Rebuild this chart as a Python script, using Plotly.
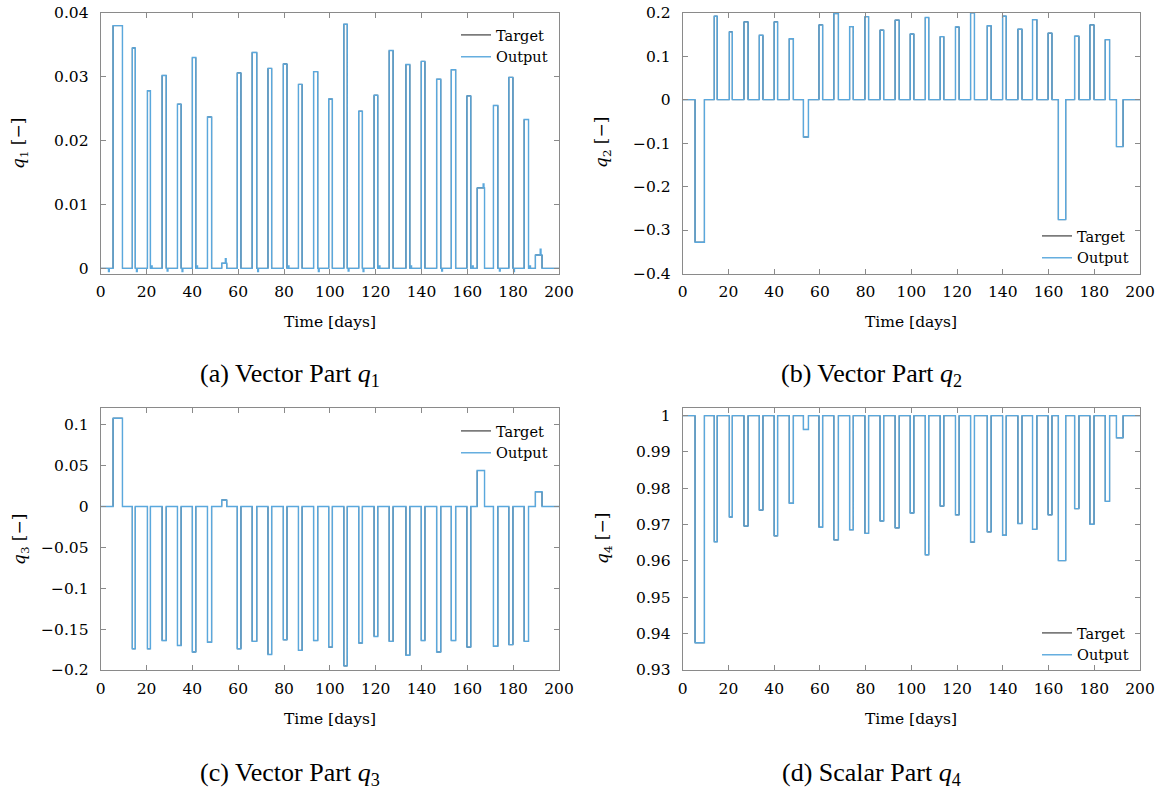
import plotly.graph_objects as go

# ---------------- data ----------------
t_start = [5.4, 13.8, 20.4, 26.8, 33.5, 40.0, 46.6, 52.8, 59.6, 66.1, 73.0, 79.7,
           86.3, 92.9, 99.5, 106.1, 112.6, 119.3, 125.9, 133.2, 139.9, 146.6,
           153.0, 159.8, 164.3, 171.4, 178.1, 184.8, 189.7]
t_end = [9.5, 15.1, 21.7, 28.6, 35.1, 41.5, 48.4, 55.0, 61.2, 68.1, 74.6, 81.3,
         87.9, 94.7, 101.1, 107.6, 114.2, 120.9, 127.6, 134.9, 141.5, 148.4,
         154.9, 161.5, 167.5, 173.3, 179.9, 186.7, 192.6]

q1_peak = [0.0380, 0.0345, 0.0278, 0.0302, 0.0257, 0.0330, 0.0237, 0.0008, 0.0306,
           0.0338, 0.0313, 0.0320, 0.0288, 0.0308, 0.0265, 0.0382, 0.0246, 0.0271,
           0.0341, 0.0319, 0.0324, 0.0296, 0.0311, 0.0270, 0.0126, 0.0255, 0.0299,
           0.0233, 0.0021]
q2_peak = [-0.328, 0.192, 0.156, 0.179, 0.148, 0.179, 0.140, -0.086, 0.172, 0.198,
           0.168, 0.191, 0.160, 0.183, 0.151, 0.189, 0.145, 0.167, 0.200, 0.170,
           0.192, 0.162, 0.184, 0.153, -0.276, 0.146, 0.172, 0.138, -0.108]
q3_peak = [0.108, -0.174, -0.174, -0.164, -0.170, -0.178, -0.166, 0.008, -0.174,
           -0.165, -0.181, -0.163, -0.176, -0.164, -0.172, -0.195, -0.167, -0.159,
           -0.165, -0.182, -0.164, -0.178, -0.164, -0.172, 0.044, -0.171, -0.169,
           -0.165, 0.018]
q4_peak = [0.9375, 0.9653, 0.9721, 0.9696, 0.9740, 0.9669, 0.9759, 0.9962, 0.9693,
           0.9658, 0.9686, 0.9676, 0.9710, 0.9691, 0.9732, 0.9617, 0.9751, 0.9727,
           0.9652, 0.9680, 0.9671, 0.9703, 0.9687, 0.9727, 0.9601, 0.9744, 0.9701,
           0.9764, 0.9939]
baselines = [0.0, 0.0, 0.0, 1.0]

# small transients of the estimated output in q1 (time [days], offset)
q1_glitch_t = [3.4, 15.6, 22.1, 29.0, 35.5, 41.9, 54.4, 68.5, 81.8, 95.0, 108.0,
               114.5, 121.5, 135.3, 148.8, 162.2, 166.9, 174.0, 180.2, 187.2, 191.8]
q1_glitch_v = [-0.0005, -0.0005, 0.0004, -0.0004, -0.0005, 0.0004, 0.0007, -0.0005,
               0.0004, -0.0005, -0.0004, -0.0005, 0.0004, 0.0004, -0.0004, 0.0004,
               0.0006, -0.0004, -0.0005, 0.0004, 0.0009]
glitch_len = 0.35

x_ticks = [0, 20, 40, 60, 80, 100, 120, 140, 160, 180, 200]
y1_ticks = [0, 0.01, 0.02, 0.03, 0.04]
y1_text = ["0", "0.01", "0.02", "0.03", "0.04"]
y2_ticks = [-0.4, -0.3, -0.2, -0.1, 0, 0.1, 0.2]
y2_text = ["\u22120.4", "\u22120.3", "\u22120.2", "\u22120.1", "0", "0.1", "0.2"]
y3_ticks = [-0.2, -0.15, -0.1, -0.05, 0, 0.05, 0.1]
y3_text = ["\u22120.2", "\u22120.15", "\u22120.1", "\u22120.05", "0", "0.05", "0.1"]
y4_ticks = [0.93, 0.94, 0.95, 0.96, 0.97, 0.98, 0.99, 1.0]
y4_text = ["0.93", "0.94", "0.95", "0.96", "0.97", "0.98", "0.99", "1"]

captions = ["(a) Vector Part <i>q</i><sub>1</sub>", "(b) Vector Part <i>q</i><sub>2</sub>",
            "(c) Vector Part <i>q</i><sub>3</sub>", "(d) Scalar Part <i>q</i><sub>4</sub>"]
ylabels = ["<i>q</i><sub>1</sub> [\u2212]", "<i>q</i><sub>2</sub> [\u2212]",
           "<i>q</i><sub>3</sub> [\u2212]", "<i>q</i><sub>4</sub> [\u2212]"]

# ---------------- helpers ----------------
def step_series(base, peaks):
    t, v = [0.0], [base]
    for s, e, p in zip(t_start, t_end, peaks):
        t += [s, e]
        v += [p, base]
    t.append(200.0)
    v.append(base)
    return t, v


def value_at(t_list, v_list, x):
    val = v_list[0]
    for tt, vv in zip(t_list, v_list):
        if tt <= x:
            val = vv
        else:
            break
    return val


def with_glitches(t_list, v_list, gt, gv):
    pts = set(t_list)
    for g in gt:
        pts.add(g)
        pts.add(g + glitch_len)
    ts = sorted(pts)
    out = []
    for x in ts:
        val = value_at(t_list, v_list, x)
        for g, a in zip(gt, gv):
            if g <= x < g + glitch_len:
                val += a
        out.append(val)
    return ts, out


# ---------------- figure ----------------
W, H = 1162, 790


def px(sx):
    return sx / W


def py(sy):
    return 1 - sy / H


col_x = [(100.7, 559.0), (682.7, 1140.0)]
row_y = [(12.5, 273.5), (408.0, 670.0)]

fig = go.Figure()

peaks_all = [q1_peak, q2_peak, q3_peak, q4_peak]
FONT = "DejaVu Serif"
TFS = 15.5
BLUE = "#5aa8dd"
GREY = "#8a8a8a"

legend_pos = [(456, 19), (1037, 220), (456, 415), (1037, 617)]
yranges = [[-0.0008, 0.04005], [-0.4, 0.2005], [-0.2, 0.1205], [0.93, 1.0021]]
yticks = [(y1_ticks, y1_text), (y2_ticks, y2_text), (y3_ticks, y3_text), (y4_ticks, y4_text)]

for i in range(4):
    r, c = divmod(i, 2)
    xa = "x" if i == 0 else f"x{i+1}"
    ya = "y" if i == 0 else f"y{i+1}"
    lg = "legend" if i == 0 else f"legend{i+1}"
    tt, vv = step_series(baselines[i], peaks_all[i])
    if i == 0:
        ot, ov = with_glitches(tt, vv, q1_glitch_t, q1_glitch_v)
    else:
        ot, ov = tt, vv
    fig.add_trace(go.Scatter(x=tt, y=vv, mode="lines", line=dict(color="black", width=0.9, shape="hv"),
                             name="Target", xaxis=xa, yaxis=ya, legend=lg))
    fig.add_trace(go.Scatter(x=ot, y=ov, mode="lines", line=dict(color=BLUE, width=1.4, shape="hv"),
                             name="Output", xaxis=xa, yaxis=ya, legend=lg))

    x0, x1 = col_x[c]
    y0, y1 = row_y[r]
    axis_common = dict(showgrid=False, zeroline=False, showline=True, linecolor=GREY, linewidth=1,
                       ticks="inside", ticklen=5, tickcolor=GREY, mirror="ticks", automargin=False,
                       ticklabeloverflow="allow",
                       tickfont=dict(family=FONT, size=TFS, color="black"))
    fig.update_layout(**{
        ("xaxis" if i == 0 else f"xaxis{i+1}"): dict(
            domain=[px(x0), px(x1)], range=[0, 200], tickvals=x_ticks, anchor=ya,
            ticklabelstandoff=4, **axis_common),
        ("yaxis" if i == 0 else f"yaxis{i+1}"): dict(
            domain=[py(y1), py(y0)], range=yranges[i], tickvals=yticks[i][0],
            ticktext=yticks[i][1], anchor=xa, ticklabelstandoff=8, **axis_common),
    })
    lx, ly = legend_pos[i]
    fig.update_layout(**{lg: dict(x=px(lx), y=py(ly), xanchor="left", yanchor="top",
                                  bgcolor="rgba(0,0,0,0)", borderwidth=0,
                                  font=dict(family=FONT, size=14.5, color="black"))})

    # axis titles
    fig.add_annotation(text="Time [days]", x=px((x0 + x1) / 2), y=py(y1 + 49),
                       xref="paper", yref="paper", showarrow=False, xanchor="center", yanchor="middle",
                       font=dict(family=FONT, size=TFS, color="black"))
    ylx = 20 if c == 0 else 603
    fig.add_annotation(text=ylabels[i], x=px(ylx), y=py((y0 + y1) / 2),
                       xref="paper", yref="paper", showarrow=False, textangle=-90,
                       xanchor="center", yanchor="middle",
                       font=dict(family=FONT, size=TFS + 1.5, color="black"))
    # captions
    capx = 290 if c == 0 else 871
    capy = 375 if r == 0 else 774
    fig.add_annotation(text=captions[i], x=px(capx), y=py(capy), xref="paper", yref="paper",
                       showarrow=False, xanchor="center", yanchor="middle",
                       font=dict(family="Liberation Serif", size=26, color="black"))

fig.update_layout(width=W, height=H, margin=dict(l=0, r=0, t=0, b=0, autoexpand=False),
                  paper_bgcolor="white", plot_bgcolor="white", showlegend=True)

# remove the default 8 px page margin so the 1162x790 figure fills the window exactly
fig.write_html("out.html", config={"displayModeBar": False},
               post_script="document.body.style.margin='0';document.body.style.overflow='hidden';")
